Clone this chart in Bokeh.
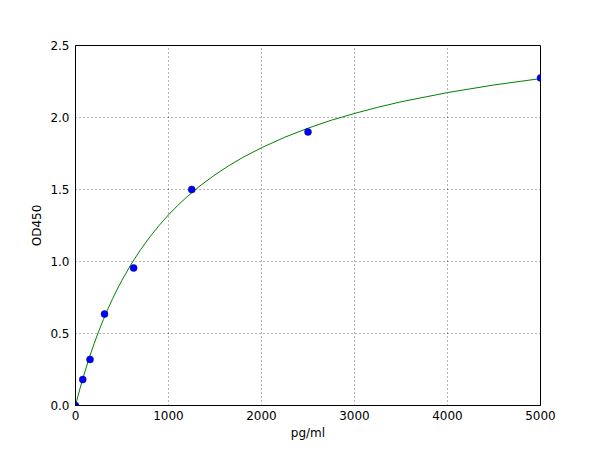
from bokeh.plotting import figure
from bokeh.embed import file_html
from bokeh.resources import INLINE
from bokeh.models import Range1d, FixedTicker, CustomJSTickFormatter

# Standard points
conc = [0, 78, 156, 312, 625, 1250, 2500, 5000]
od = [0.0, 0.18, 0.32, 0.635, 0.955, 1.50, 1.90, 2.275]

# Fitted curve
curve_x = [0, 25, 50, 75, 100, 150, 200, 250, 300, 350, 400, 450, 500, 600, 700,
           800, 900, 1000, 1100, 1200, 1350, 1500, 1650, 1800, 2000, 2250, 2500,
           2750, 3000, 3250, 3500, 4000, 4500, 5000]
curve_y = [0.0, 0.062, 0.121, 0.178, 0.233, 0.335, 0.429, 0.516, 0.597, 0.673,
           0.743, 0.809, 0.870, 0.983, 1.082, 1.171, 1.251, 1.324, 1.390, 1.450,
           1.531, 1.602, 1.666, 1.723, 1.790, 1.863, 1.926, 1.981, 2.028, 2.071,
           2.109, 2.173, 2.226, 2.270]

x_ticks = [0, 1000, 2000, 3000, 4000, 5000]
y_ticks = [0.0, 0.5, 1.0, 1.5, 2.0, 2.5]

FONT = "DejaVu Sans"

p = figure(width=592, height=442, output_backend="svg", toolbar_location=None,
           x_range=Range1d(0, 5000), y_range=Range1d(0, 2.5),
           min_border_left=75, min_border_right=52, min_border_top=45,
           min_border_bottom=37)

p.background_fill_color = "white"
p.border_fill_color = "white"
p.outline_line_color = "black"
p.outline_line_width = 1
p.outline_line_alpha = 1

for ax in (p.xaxis[0], p.yaxis[0]):
    ax.major_tick_in = 0
    ax.major_tick_out = 0
    ax.minor_tick_in = 0
    ax.minor_tick_out = 0
    ax.axis_line_color = "black"
    ax.major_label_text_font = FONT
    ax.major_label_text_font_size = "12px"
    ax.major_label_text_color = "black"
    ax.axis_label_text_font = FONT
    ax.axis_label_text_font_size = "12px"
    ax.axis_label_text_font_style = "normal"
    ax.axis_label_text_color = "black"

p.xaxis.ticker = FixedTicker(ticks=x_ticks)
p.yaxis.ticker = FixedTicker(ticks=y_ticks)
p.yaxis.formatter = CustomJSTickFormatter(code="return tick.toFixed(1);")
p.xaxis.axis_label = "pg/ml"
p.yaxis.axis_label = "OD450"
p.xaxis.major_label_standoff = 5
p.xaxis.axis_label_standoff = 3
p.yaxis.major_label_standoff = 6
p.yaxis.axis_label_standoff = 3

p.xgrid.ticker = FixedTicker(ticks=x_ticks)
p.ygrid.ticker = FixedTicker(ticks=y_ticks)
for g in (p.xgrid[0], p.ygrid[0]):
    g.grid_line_color = "black"
    g.grid_line_alpha = 0.6
    g.grid_line_dash = "1 3"
    g.grid_line_width = 1

p.line(curve_x, curve_y, line_color="#008000", line_width=1)
p.scatter(conc, od, size=7, fill_color="#0000ff", line_color="#000080",
          line_width=0.5)

open("out.html", "w").write(file_html(p, INLINE))
